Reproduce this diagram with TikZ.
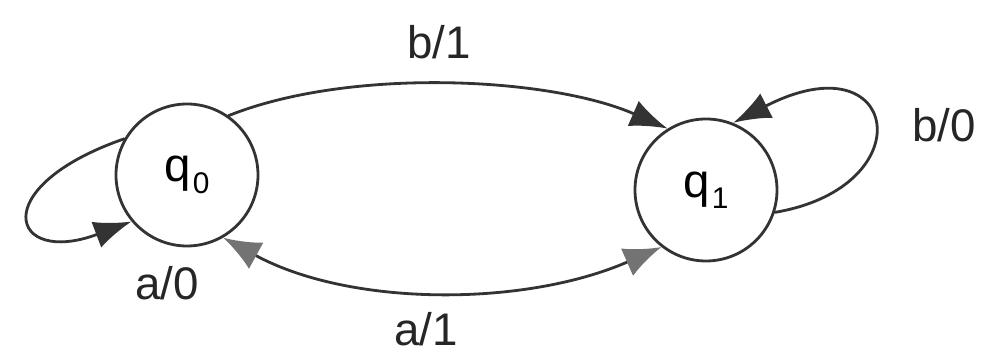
\documentclass[tikz,border=0pt]{standalone}
\usepackage{fontspec}
\setmainfont{Liberation Sans}
\usepackage{tikz}
\usetikzlibrary{positioning,arrows.meta}

\newcommand{\qst}[1]{q\kern0.04em\raisebox{-0.45ex}{\fontsize{17}{20}\selectfont #1}}

\begin{document}
\begin{tikzpicture}[x=1cm,y=1cm, line cap=round, line join=round,
  state/.style={circle, draw=black!80, line width=1.6pt, minimum size=2.84cm, inner sep=0pt,
    font=\fontsize{27}{30}\selectfont},
  edge/.style={draw=black!80, line width=1.6pt, -{Latex[length=7.5mm,width=5.5mm]}},
  smudge/.style={draw=black!80, line width=1.6pt,
    {Latex[length=7.5mm,width=6mm,color=black!55]}-{Latex[length=7.5mm,width=6mm,color=black!55]}},
  lbl/.style={font=\fontsize{26}{30}\selectfont, text=black!85, inner sep=0pt}]
\useasboundingbox (0,0) rectangle (19.74,7.14);

% States
\node[state] (q0) at (3.74,3.64) {\qst{0}};
\node[state] (q1) at (14.12,3.34) {\qst{1}};

% b/1 on top
\draw[edge] (q0.55) .. controls (7,5.8) and (11,5.6) .. (q1.122);
\node[lbl] (l01) at (8.78,6.3) {b/1};

% a/1 at the bottom
\draw[smudge] (q0.-60) .. controls (7,1.0) and (10.5,1.0) .. (q1.-128);
\node[lbl] (l10) at (8.52,0.56) {a/1};

% loop on q1
\draw[edge] (q1.-18) .. controls (18.5,3.4) and (18.0,6.4) .. (q1.68);
\node[lbl] (l11) at (18.88,4.64) {b/0};

% loop on q0
\draw[edge] (q0.150) .. controls (-0.3,3.4) and (0.2,1.8) .. (q0.-140);
\node[lbl] (l00) at (3.34,1.48) {a/0};
\end{tikzpicture}
\end{document}
